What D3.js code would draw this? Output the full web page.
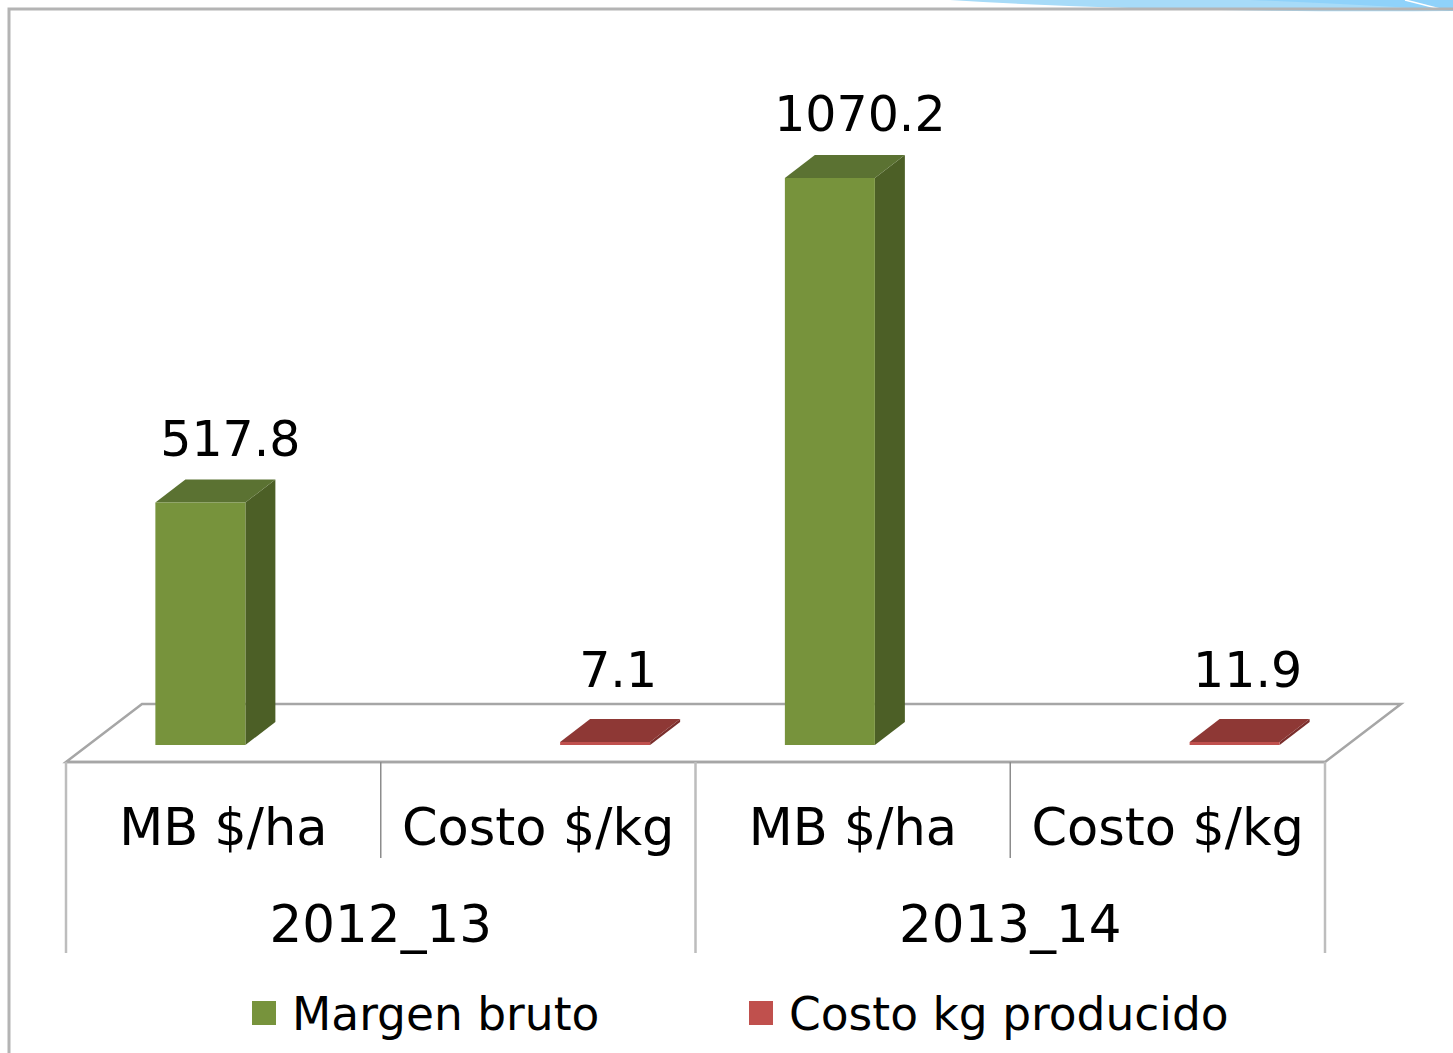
<!DOCTYPE html>
<html><head><meta charset="utf-8">
<script src="https://cdn.jsdelivr.net/npm/d3@7/dist/d3.min.js"></script>
<style>
html,body{margin:0;padding:0;background:#fff;}
svg{display:block;}
text{font-family:"DejaVu Sans",Verdana,sans-serif;fill:#000;}
</style></head>
<body>
<script>
// ---- data ----
const groups = ["2012_13", "2013_14"];
const subcats = ["MB $/ha", "Costo $/kg"];
const seriesNames = ["Margen bruto", "Costo kg producido"];
const margenBruto = [517.8, null, 1070.2, null];
const costoKg = [null, 7.1, null, 11.9];
const valueLabels = ["517.8", "7.1", "1070.2", "11.9"];
const axisMin = 105, axisMax = 1070.2;

// ---- layout ----
const W = 1453, H = 1053;
const floorFront = 762, floorDX = 76, floorDY = 58;
const barBase = 745, barDX = 30, barDY = 23, barShift = 22;
const colors = {
  green: {front: "#77933C", side: "#4C5F26", top: "#5B7232", labelDX: 15, labelDY: 24},
  red: {front: "#C0504D", side: "#7A2E2C", top: "#8E3835", labelDX: -2, labelDY: 32}
};

const svg = d3.select("body").append("svg").attr("width", W).attr("height", H);

// top-right decoration
svg.append("path").attr("d", "M950,0 Q1150,13 1453,11 L1453,0 Z").attr("fill", "#A7DBF8");
svg.append("path").attr("d", "M1250,0 Q1380,5 1453,11 L1453,0 Z").attr("fill", "#8FD2FA");
svg.append("path").attr("d", "M1405,0 Q1425,5 1440,9").attr("fill", "none").attr("stroke", "#fff").attr("stroke-width", 1.5);

// outer border
svg.append("path").attr("d", "M9,1053 L9,9 L1453,9").attr("fill", "none")
  .attr("stroke", "#B4B4B4").attr("stroke-width", 3);

const cats = d3.range(groups.length * subcats.length);
const x = d3.scaleBand().domain(cats).range([66, 1325]).padding(0);
const bw = x.bandwidth();
const clusterW = 180;
const xSub = d3.scaleBand().domain(seriesNames).range([bw / 2 - clusterW / 2, bw / 2 + clusterW / 2]).padding(0);
const y = d3.scaleLinear().domain([axisMin, axisMax]).range([barBase, 178]).clamp(true);

// floor
const fl = [66, 1325];
const floor = svg.append("g").attr("fill", "none").attr("stroke", "#A6A6A6").attr("stroke-width", 2.5);
floor.append("path").attr("d",
  `M${fl[0]},${floorFront} L${fl[0] + floorDX},${floorFront - floorDY} L${fl[1] + floorDX},${floorFront - floorDY} L${fl[1]},${floorFront} Z`);

// bars
const bars = [];
cats.forEach(i => {
  if (margenBruto[i] != null) bars.push({i, s: seriesNames[0], v: margenBruto[i], c: colors.green});
  if (costoKg[i] != null) bars.push({i, s: seriesNames[1], v: costoKg[i], c: colors.red});
});
const gb = svg.append("g");
bars.forEach(b => {
  const x0 = x(b.i) + xSub(b.s) + barShift;
  const x1 = x0 + xSub.bandwidth();
  let yt = y(b.v);
  if (barBase - yt < 3) yt = barBase - 3;
  const g = gb.append("g");
  g.append("path").attr("fill", b.c.side)
    .attr("d", `M${x1},${barBase} L${x1 + barDX},${barBase - barDY} L${x1 + barDX},${yt - barDY} L${x1},${yt} Z`);
  g.append("path").attr("fill", b.c.top)
    .attr("d", `M${x0},${yt} L${x0 + barDX},${yt - barDY} L${x1 + barDX},${yt - barDY} L${x1},${yt} Z`);
  g.append("rect").attr("fill", b.c.front).attr("x", x0).attr("y", yt).attr("width", x1 - x0).attr("height", barBase - yt);
  g.append("text").attr("x", (x0 + x1) / 2 + barDX / 2 + b.c.labelDX).attr("y", yt - barDY - b.c.labelDY)
    .attr("text-anchor", "middle").attr("font-size", 49).text(valueLabels[b.i]);
});

// front edge + verticals
const fg = svg.append("g");
fg.append("line").attr("x1", fl[0]).attr("x2", fl[1]).attr("y1", floorFront).attr("y2", floorFront)
  .attr("stroke", "#A6A6A6").attr("stroke-width", 2.5);
cats.concat([cats.length]).forEach(k => {
  const xx = k < cats.length ? x(k) : x(cats.length - 1) + bw;
  const major = k % subcats.length === 0;
  fg.append("line").attr("x1", xx).attr("x2", xx).attr("y1", floorFront)
    .attr("y2", major ? 953 : 858)
    .attr("stroke", major ? "#BDBDBD" : "#8C8C8C").attr("stroke-width", major ? 2.5 : 1.5);
});

// category labels
cats.forEach(i => {
  svg.append("text").attr("x", x(i) + bw / 2).attr("y", 845).attr("text-anchor", "middle")
    .attr("font-size", 51).text(subcats[i % subcats.length]);
});
groups.forEach((gname, gi) => {
  const cx = x(gi * subcats.length) + bw * subcats.length / 2;
  svg.append("text").attr("x", cx).attr("y", 942).attr("text-anchor", "middle")
    .attr("font-size", 51.5).text(gname);
});

// legend
const legendX = [252, 749];
const legendColors = [colors.green.front, colors.red.front];
seriesNames.forEach((s, k) => {
  svg.append("rect").attr("x", legendX[k]).attr("y", 1001).attr("width", 24).attr("height", 24).attr("fill", legendColors[k]);
  svg.append("text").attr("x", legendX[k] + 40).attr("y", 1030).attr("font-size", 45.5).text(s);
});
</script>
</body></html>
